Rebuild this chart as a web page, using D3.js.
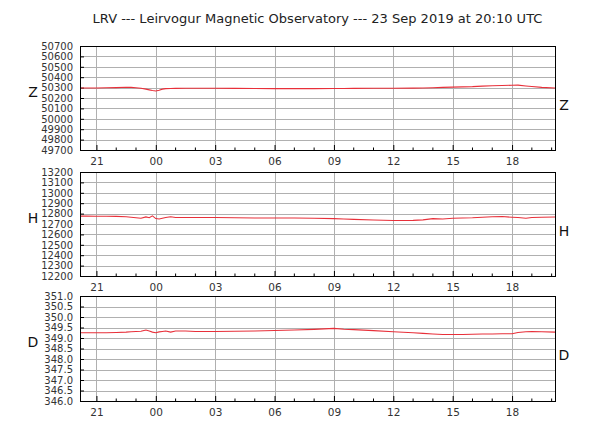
<!DOCTYPE html>
<html>
<head>
<meta charset="utf-8">
<script src="https://cdn.jsdelivr.net/npm/d3@7"></script>
<style>
  body { margin: 0; background: #fff; }
  text { font-family: 'DejaVu Sans', sans-serif; }
</style>
</head>
<body>
<div id="container"></div>
<script>
const width = 600;
const height = 431;

// hours relative to 00:00 UTC on 23 Sep 2019
const hours = [-3.83, -3.5, -3, -2.5, -2, -1.5, -1.25, -1, -0.75, -0.5, -0.33, -0.17, 0, 0.17, 0.33, 0.5, 0.75, 1, 1.5, 2, 3, 4, 5, 6, 7, 8, 9, 9.5, 10, 11, 12, 13, 13.5, 14, 14.5, 15, 15.5, 16, 16.5, 17, 17.5, 18, 18.3, 18.7, 19, 19.5, 20.17];

const zValues = [50296, 50296, 50296, 50298, 50300, 50304, 50302, 50298, 50293, 50285, 50278, 50272, 50268, 50275, 50285, 50290, 50292, 50293, 50294, 50294, 50294, 50293, 50291, 50290, 50290, 50290, 50291, 50292, 50293, 50294, 50294, 50295, 50296, 50298, 50302, 50305, 50307, 50309, 50314, 50318, 50320, 50323, 50324, 50316, 50310, 50302, 50296];

const hValues = [12776, 12776, 12775, 12774, 12773, 12770, 12765, 12760, 12755, 12768, 12760, 12778, 12752, 12748, 12755, 12762, 12770, 12763, 12763, 12762, 12762, 12760, 12758, 12758, 12757, 12756, 12752, 12748, 12744, 12738, 12733, 12735, 12740, 12752, 12748, 12755, 12758, 12760, 12765, 12770, 12772, 12765, 12762, 12755, 12762, 12765, 12768];

const dValues = [349.25, 349.25, 349.25, 349.25, 349.26, 349.28, 349.30, 349.31, 349.32, 349.38, 349.33, 349.28, 349.25, 349.29, 349.31, 349.33, 349.28, 349.33, 349.33, 349.31, 349.31, 349.32, 349.33, 349.36, 349.38, 349.41, 349.46, 349.42, 349.40, 349.35, 349.30, 349.25, 349.22, 349.19, 349.17, 349.17, 349.17, 349.18, 349.19, 349.19, 349.20, 349.20, 349.26, 349.30, 349.31, 349.30, 349.28];

const zTicks = [49700, 49800, 49900, 50000, 50100, 50200, 50300, 50400, 50500, 50600, 50700];
const hTicks = [12200, 12300, 12400, 12500, 12600, 12700, 12800, 12900, 13000, 13100, 13200];
const dTicks = [346.0, 346.5, 347.0, 347.5, 348.0, 348.5, 349.0, 349.5, 350.0, 350.5, 351.0];

const timeLabels = ['21', '00', '03', '06', '09', '12', '15', '18'];
const timeTicks = [-3, 0, 3, 6, 9, 12, 15, 18];

const title = 'LRV --- Leirvogur Magnetic Observatory --- 23 Sep 2019 at 20:10 UTC';

const panels = [
    { name: 'Z', values: zValues, ticks: zTicks, fmt: d3.format('d'), top: 46, bottom: 150 },
    { name: 'H', values: hValues, ticks: hTicks, fmt: d3.format('d'), top: 172, bottom: 276 },
    { name: 'D', values: dValues, ticks: dTicks, fmt: d3.format('.1f'), top: 296, bottom: 401 }
];

const left = 80, right = 555;

const svg = d3.select('#container')
    .append('svg')
    .attr('width', width)
    .attr('height', height)
    .style('background-color', '#fff');

svg.append('text')
    .attr('x', (left + right) / 2)
    .attr('y', 23)
    .attr('text-anchor', 'middle')
    .style('font-size', '13px')
    .attr('fill', '#222')
    .text(title);

const x = d3.scaleLinear()
    .domain([hours[0], hours[hours.length - 1]])
    .range([left, right]);

const minorTicks = d3.range(-3, 21, 1);

panels.forEach(p => {
    const y = d3.scaleLinear()
        .domain([p.ticks[0], p.ticks[p.ticks.length - 1]])
        .range([p.bottom, p.top]);

    const g = svg.append('g');

    // horizontal grid
    g.append('g')
        .selectAll('line')
        .data(p.ticks)
        .enter().append('line')
        .attr('x1', left).attr('x2', right)
        .attr('y1', d => Math.round(y(d)) + 0.5)
        .attr('y2', d => Math.round(y(d)) + 0.5)
        .attr('stroke', '#b0b0b0')
        .attr('stroke-width', 1);

    // vertical grid
    g.append('g')
        .selectAll('line')
        .data(timeTicks)
        .enter().append('line')
        .attr('x1', d => Math.round(x(d)) + 0.5)
        .attr('x2', d => Math.round(x(d)) + 0.5)
        .attr('y1', p.top).attr('y2', p.bottom)
        .attr('stroke', '#b0b0b0')
        .attr('stroke-width', 1);

    // y axis labels + inward ticks
    const yAxis = d3.axisLeft(y)
        .tickValues(p.ticks)
        .tickFormat(p.fmt)
        .tickSizeInner(-4)
        .tickSizeOuter(0)
        .tickPadding(7);
    const ya = g.append('g')
        .attr('transform', `translate(${left},0)`)
        .call(yAxis);
    ya.select('.domain').remove();
    ya.selectAll('line').attr('stroke', '#000');
    ya.selectAll('text').style('font-size', '10px').attr('fill', '#333');

    // bottom axis, major and minor ticks pointing inward
    const xAxis = d3.axisBottom(x)
        .tickValues(timeTicks)
        .tickFormat((d, i) => timeLabels[i])
        .tickSizeInner(-5)
        .tickSizeOuter(0)
        .tickPadding(8);
    const xa = g.append('g')
        .attr('transform', `translate(0,${p.bottom})`)
        .call(xAxis);
    xa.select('.domain').remove();
    xa.selectAll('line').attr('stroke', '#000');
    xa.selectAll('text').style('font-size', '10.5px').attr('fill', '#333');

    g.append('g')
        .selectAll('line')
        .data(minorTicks.filter(h => h % 3 !== 0))
        .enter().append('line')
        .attr('x1', d => x(d)).attr('x2', d => x(d))
        .attr('y1', p.bottom).attr('y2', p.bottom - 2.5)
        .attr('stroke', '#000');

    // the data line
    const line = d3.line()
        .x((d, i) => x(hours[i]))
        .y(d => y(d));
    g.append('path')
        .datum(p.values)
        .attr('d', line)
        .attr('fill', 'none')
        .attr('stroke', '#e8303a')
        .attr('stroke-width', 1.1);

    // frame
    g.append('rect')
        .attr('x', left + 0.5).attr('y', p.top + 0.5)
        .attr('width', right - left).attr('height', p.bottom - p.top)
        .attr('fill', 'none')
        .attr('stroke', '#000')
        .attr('stroke-width', 1);

    // component labels
    g.append('text')
        .attr('x', 33)
        .attr('y', (p.top + p.bottom) / 2 - 6)
        .attr('text-anchor', 'middle')
        .attr('dy', '0.35em')
        .style('font-size', '14px')
        .attr('fill', '#111')
        .text(p.name);

    g.append('text')
        .attr('x', 564)
        .attr('y', (p.top + p.bottom) / 2 + 7)
        .attr('text-anchor', 'middle')
        .attr('dy', '0.35em')
        .style('font-size', '14px')
        .attr('fill', '#111')
        .text(p.name);
});
</script>
</body>
</html>
